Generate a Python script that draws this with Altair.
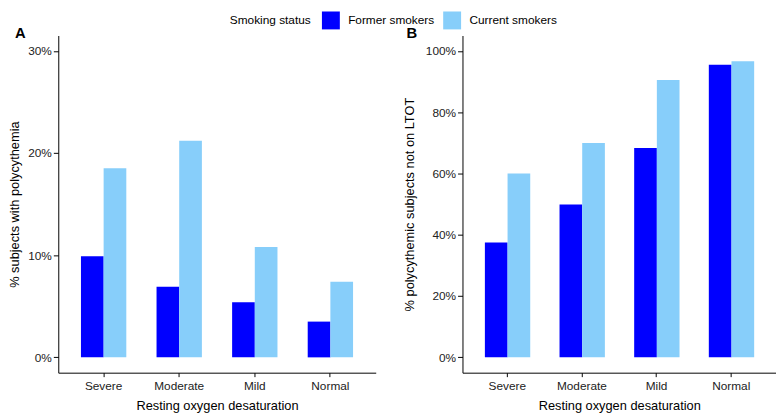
import altair as alt
import pandas as pd

# Resting oxygen desaturation categories and smoking groups
categories = ["Severe", "Moderate", "Mild", "Normal"]
groups = ["Former smokers", "Current smokers"]
colours = ["#0000FF", "#87CEFA"]

# Panel A: % subjects with polycythemia
poly_former = [0.099, 0.069, 0.054, 0.035]
poly_current = [0.185, 0.212, 0.108, 0.074]

# Panel B: % polycythemic subjects not on LTOT
ltot_former = [0.375, 0.499, 0.683, 0.955]
ltot_current = [0.600, 0.699, 0.905, 0.966]

FONT = "Liberation Sans"


def make_df(former, current):
    rows = []
    for cat, f, c in zip(categories, former, current):
        rows.append({"severity": cat, "status": groups[0], "value": f})
        rows.append({"severity": cat, "status": groups[1], "value": c})
    return pd.DataFrame(rows)


def panel(df, letter, ytitle, domain, ticks, width, dx, title_pad):
    return alt.Chart(
        df,
        width=width,
        height=342,
        title=alt.TitleParams(letter, anchor="start", font=FONT, fontSize=15,
                              fontWeight="bold", color="black", offset=-2,
                              baseline="alphabetic", dx=dx, dy=16),
    ).mark_bar().encode(
        x=alt.X("severity:N", sort=categories, title="Resting oxygen desaturation",
                scale=alt.Scale(paddingInner=0.4, paddingOuter=0.3),
                axis=alt.Axis(labelAngle=0, tickSize=4, labelPadding=4, titlePadding=8)),
        xOffset=alt.XOffset("status:N", sort=groups,
                            scale=alt.Scale(paddingInner=0, paddingOuter=0)),
        y=alt.Y("value:Q", stack=None, title=ytitle,
                scale=alt.Scale(domain=domain, nice=False, zero=False),
                axis=alt.Axis(values=ticks, format=".0%", tickSize=5, labelPadding=2,
                              titlePadding=title_pad)),
        y2=alt.datum(0),
        color=alt.Color("status:N", sort=groups,
                        scale=alt.Scale(domain=groups, range=colours),
                        legend=alt.Legend(title="Smoking status", orient="none",
                                          direction="horizontal", titleOrient="left",
                                          legendX=174, legendY=-25,
                                          symbolType="square", symbolSize=330,
                                          symbolStrokeWidth=0, labelOffset=8,
                                          columnPadding=8, titlePadding=10)),
    )


chart_a = panel(make_df(poly_former, poly_current), "A",
                "% subjects with polycythemia", [-0.015, 0.315],
                [0, 0.1, 0.2, 0.3], 322, 6, 6)
chart_b = panel(make_df(ltot_former, ltot_current), "B",
                "% polycythemic subjects not on LTOT", [-0.05, 1.05],
                [0, 0.2, 0.4, 0.6, 0.8, 1.0], 318, 3, 9)

chart = alt.hconcat(chart_a, chart_b, spacing=28).properties(
    padding={"left": 0, "top": 0, "right": 0, "bottom": 0}
).configure_view(
    stroke=None
).configure_axis(
    grid=False,
    domainColor="black",
    tickColor="black",
    labelFont=FONT,
    labelFontSize=12,
    labelColor="#222222",
    titleFont=FONT,
    titleFontSize=13,
    titleFontWeight="normal",
    titleColor="black",
).configure_legend(
    labelFont=FONT,
    labelFontSize=12,
    labelColor="black",
    titleFont=FONT,
    titleFontSize=12,
    titleFontWeight="normal",
    titleColor="black",
)

chart.save("out.html", embed_options={"renderer": "svg", "actions": False})
